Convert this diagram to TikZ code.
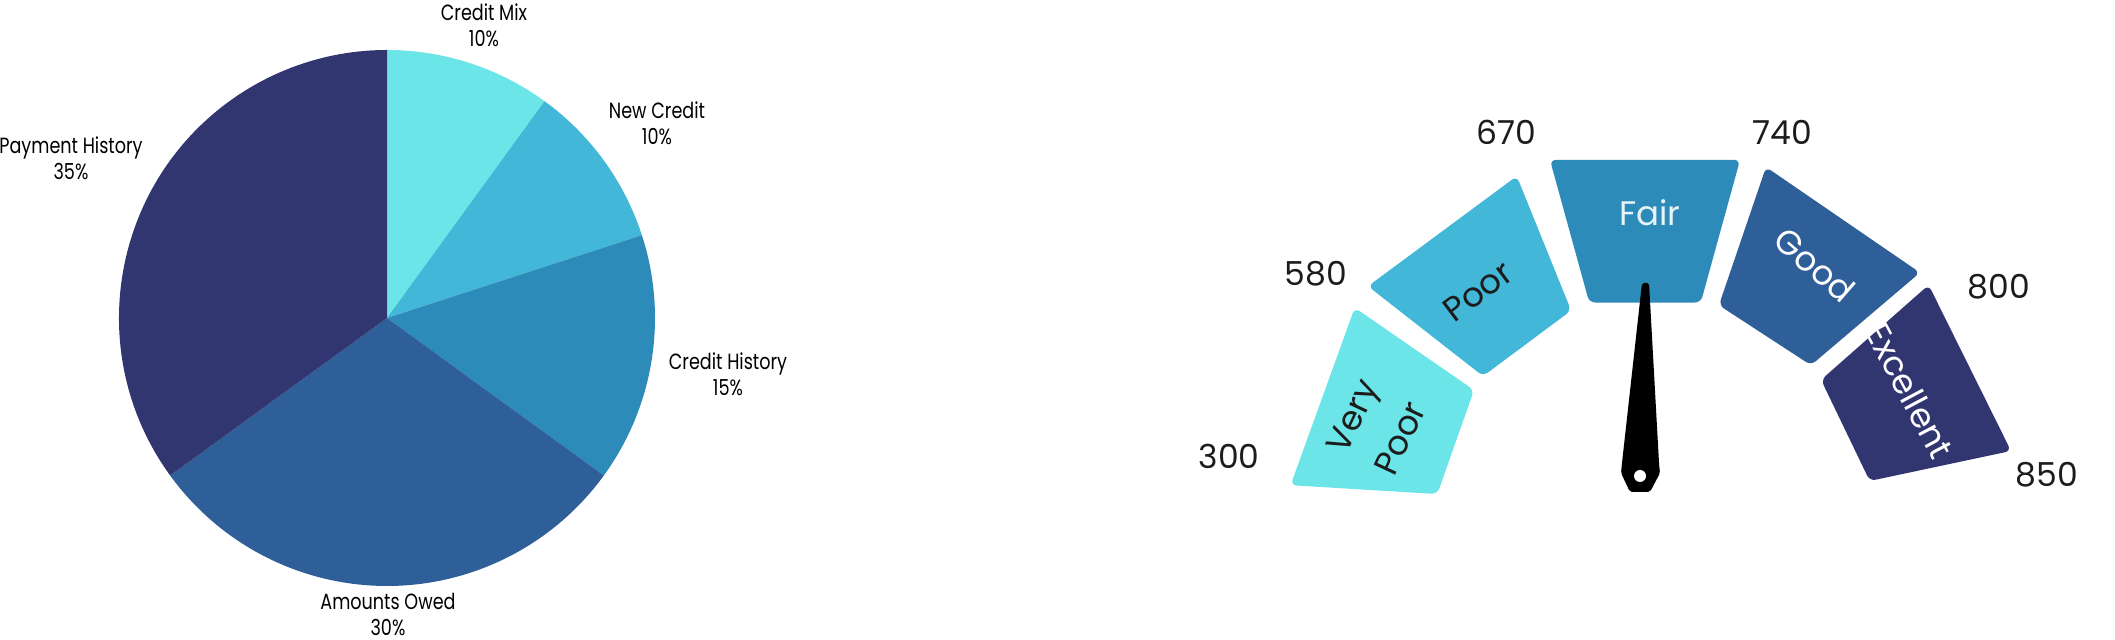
\documentclass[tikz,border=0pt]{standalone}
\usepackage{fontspec}
\setmainfont{Poppins}
\newfontfamily\narrowfont[FakeStretch=0.8]{Poppins}
\usepackage{tikz}

\definecolor{tealA}{HTML}{6BE5E8}
\definecolor{tealB}{HTML}{43B7D7}
\definecolor{blueC}{HTML}{2D8BBA}
\definecolor{blueD}{HTML}{2E5F98}
\definecolor{navyE}{HTML}{313670}
\definecolor{inkdark}{HTML}{1C1C1C}
\definecolor{fairtext}{HTML}{E6F3F8}

\begin{document}
\begin{tikzpicture}[
    x=0.5pt, y=0.5pt,
    seg/.style={rounded corners=3pt},
    pielbl/.style={align=center, font=\narrowfont\fontsize{11}{13}\selectfont, inner sep=0pt},
    score/.style={font=\fontsize{16.5}{20}\selectfont, inner sep=0pt, text=inkdark},
    seglbl/.style={align=center, font=\fontsize{17}{26.5}\selectfont, inner sep=0pt},
]
\useasboundingbox (0,0) rectangle (2115,640);

% Pie chart
\coordinate (pc) at (387,322);
\fill[tealA] (pc) -- ++(90:268) arc[start angle=90, end angle=54, radius=268] -- cycle;
\fill[tealB] (pc) -- ++(54:268) arc[start angle=54, end angle=18, radius=268] -- cycle;
\fill[blueC] (pc) -- ++(18:268) arc[start angle=18, end angle=-36, radius=268] -- cycle;
\fill[blueD] (pc) -- ++(-36:268) arc[start angle=-36, end angle=-144, radius=268] -- cycle;
\fill[navyE] (pc) -- ++(-144:268) arc[start angle=-144, end angle=-270, radius=268] -- cycle;

% Pie labels
\node[pielbl] (cmix) at (484,615) {Credit Mix\\10\%};
\node[pielbl] (newcr) at (657,517) {New Credit\\10\%};
\node[pielbl] (chist) at (728,266) {Credit History\\15\%};
\node[pielbl, anchor=south] (owed) at (388,4) {Amounts Owed\\30\%};
\node[pielbl] (payh) at (71,482) {Payment History\\35\%};

% Gauge segments
\coordinate (gc) at (1645,135);
\fill[tealA, seg, shift={(gc)}] (145.8:351) -- (146.1:206) -- (177:208) -- (176.8:355) -- cycle;
\fill[tealB, seg, shift={(gc)}] (141.7:353) -- (111.3:353) -- (110.8:208) -- (141.5:207) -- cycle;
\fill[blueC, seg, shift={(gc)}] (105.4:358) -- (74.6:358) -- (74.6:210) -- (105.4:210) -- cycle;
\fill[blueD, seg, shift={(gc)}] (70.3:359) -- (40.2:360) -- (40.1:217) -- (69.7:213) -- cycle;
\fill[navyE, seg, shift={(gc)}] (37.8:359) -- (8.4:370) -- (6.1:226) -- (35.4:216) -- cycle;

% Segment labels
\node[seglbl, text=inkdark, rotate=65] (vpoor) at (1376,213) {Very\\Poor};
\node[seglbl, text=inkdark, rotate=37] (poor) at (1478,349) {Poor};
\node[seglbl, text=fairtext] (fair) at (1650,427) {Fair};
\node[seglbl, text=white, rotate=-41] (good) at (1815,375) {Good};
\node[seglbl, text=white, rotate=-62] (excel) at (1910,249) {Excellent};

% Score marks
\node[score] (s300) at (1229,184) {300};
\node[score] (s580) at (1316,366) {580};
\node[score] (s670) at (1506,508) {670};
\node[score] (s740) at (1782,508) {740};
\node[score] (s800) at (1999,353) {800};
\node[score] (s850) at (2047,165) {850};

% Needle
\fill[black, rounded corners=1pt] (1642,357) -- (1649,357) -- (1659,177) -- (1660,167)
    -- (1650,148) -- (1630,148) -- (1621,167) -- (1622,177) -- cycle;
\fill[white] (1640,164) circle[radius=6];

\end{tikzpicture}
\end{document}
